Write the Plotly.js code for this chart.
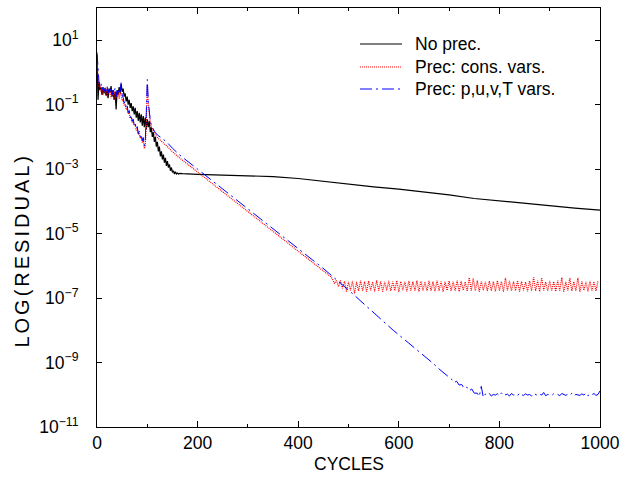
<!DOCTYPE html>
<html><head><meta charset="utf-8">
<script src="https://cdn.plot.ly/plotly-3.0.1.min.js"></script>
<style>html,body{margin:0;padding:0;background:#fff}</style></head>
<body>
<div id="chart" style="width:631px;height:478px"></div>
<script>
// ---- data: log10(residual) ----
const seriesNames = ["No prec.", "Prec: cons. vars.", "Prec: p,u,v,T vars."];
const seriesColors = ["#000000", "#ff0000", "#0000ff"];
const seriesDash = ["solid", "1px,1px", "12px,4px,2px,4px"];

// No preconditioning
const blackEarlyStart = 0, blackEarlyStep = 2; // cycles 0..164
const blackEarly = [0.55,-0.85,-0.30,-0.55,-0.45,-0.70,-0.50,-0.65,-0.48,-0.72,
 -0.55,-0.80,-0.50,-0.62,-0.42,-0.75,-0.55,-0.85,-0.60,-1.15,
 -0.55,-0.70,-0.45,-0.65,-0.35,-0.60,-0.50,-0.75,-0.65,-0.90,
 -0.75,-1.00,-0.85,-1.10,-0.95,-1.20,-1.05,-1.30,-1.10,-1.40,
 -1.20,-1.50,-1.25,-1.55,-1.30,-1.65,-1.35,-1.70,-1.40,-1.75,
 -1.45,-1.70,-1.50,-1.85,-1.70,-2.00,-1.85,-2.15,-2.00,-2.30,
 -2.15,-2.45,-2.30,-2.60,-2.45,-2.70,-2.55,-2.80,-2.65,-2.90,
 -2.75,-2.95,-2.85,-3.05,-2.95,-3.10,-3.05,-3.15,-3.08,-3.15,
 -3.12,-3.15,-3.13];
const blackLateCycles = [170,200,250,300,350,400,450,500,550,600,650,700,750,800,850,900,950,1000];
const blackLate = [-3.14,-3.16,-3.18,-3.20,-3.23,-3.29,-3.38,-3.48,-3.55,-3.62,-3.70,-3.80,-3.91,-3.99,-4.06,-4.14,-4.21,-4.27];

// Preconditioning, conservative variables
const redEarlyStart = 0, redEarlyStep = 2; // cycles 0..120
const redEarly = [0.30,-0.25,-0.45,-0.40,-0.60,-0.50,-0.70,-0.55,-0.62,-0.48,
 -0.75,-0.55,-0.68,-0.52,-0.80,-0.60,-0.72,-0.58,-0.85,-0.65,
 -0.75,-0.60,-0.82,-0.62,-0.70,-0.88,-0.85,-1.02,-0.98,-1.15,
 -1.12,-1.28,-1.25,-1.42,-1.38,-1.55,-1.50,-1.65,-1.62,-1.80,
 -1.75,-1.92,-1.88,-2.05,-2.00,-2.18,-2.12,-2.36,-2.28,-1.60,
 -0.40,-1.00,-1.40,-1.55,-1.68,-1.75,-1.82,-1.88,-1.93,-1.98,
 -2.02];
const redMidCycles = [130,140,150,165,200,250,300,350,400,450,464];
const redMid = [-2.15,-2.30,-2.46,-2.66,-3.09,-3.70,-4.32,-4.93,-5.55,-6.16,-6.33];
const redPlateauStart = 468, redPlateauStep = 4; // cycles 468..996
const redPlateau = [-6.40,-6.55,-6.45,-6.65,-6.45,-6.70,-6.48,-6.80,-6.50,-6.76,
 -6.47,-6.86,-6.50,-6.78,-6.46,-6.77,-6.49,-6.80,-6.47,-6.76,
 -6.50,-6.79,-6.45,-6.77,-6.48,-6.80,-6.50,-6.76,-6.47,-6.78,
 -6.49,-6.77,-6.46,-6.80,-6.48,-6.75,-6.50,-6.79,-6.47,-6.77,
 -6.49,-6.78,-6.46,-6.80,-6.48,-6.76,-6.50,-6.78,-6.47,-6.77,
 -6.49,-6.79,-6.46,-6.77,-6.48,-6.80,-6.50,-6.76,-6.47,-6.78,
 -6.49,-6.77,-6.46,-6.80,-6.48,-6.76,-6.50,-6.79,-6.36,-6.77,
 -6.38,-6.78,-6.46,-6.80,-6.48,-6.76,-6.50,-6.78,-6.47,-6.77,
 -6.49,-6.79,-6.46,-6.77,-6.48,-6.80,-6.37,-6.76,-6.47,-6.78,
 -6.49,-6.77,-6.46,-6.80,-6.48,-6.76,-6.50,-6.79,-6.47,-6.77,
 -6.36,-6.78,-6.46,-6.80,-6.37,-6.76,-6.50,-6.78,-6.47,-6.77,
 -6.49,-6.79,-6.46,-6.77,-6.36,-6.80,-6.50,-6.76,-6.38,-6.78,
 -6.49,-6.77,-6.37,-6.80,-6.48,-6.76,-6.50,-6.79,-6.47,-6.77,
 -6.49,-6.78,-6.47];

// Preconditioning, p,u,v,T variables
const blueEarlyStart = 0, blueEarlyStep = 2; // cycles 0..120
const blueEarly = [0.62,-0.10,-0.30,-0.45,-0.35,-0.55,-0.45,-0.60,-0.48,-0.58,
 -0.42,-0.65,-0.50,-0.60,-0.45,-0.70,-0.55,-0.62,-0.48,-0.75,
 -0.55,-0.65,-0.48,-0.60,-0.32,-0.70,-0.78,-0.95,-0.90,-1.10,
 -1.02,-1.25,-1.18,-1.40,-1.32,-1.52,-1.45,-1.65,-1.58,-1.75,
 -1.68,-1.90,-1.82,-2.00,-1.92,-2.12,-2.02,-2.28,-2.10,-1.25,
 -0.22,-0.90,-1.35,-1.50,-1.62,-1.70,-1.76,-1.82,-1.86,-1.90,
 -1.94];
const blueMidCycles = [130,140,150,165,200,250,300,350,400,449,500,550,589,620,640,660,670,680,690,700,705,710,715,720,725,730,735,740,745,750];
const blueMid = [-2.05,-2.18,-2.35,-2.57,-3.00,-3.62,-4.23,-4.85,-5.47,-6.07,-6.75,-7.45,-8.00,-8.40,-8.65,-8.92,-9.05,-9.20,-9.32,-9.45,-9.52,-9.62,-9.58,-9.70,-9.68,-9.80,-9.76,-9.88,-9.82,-9.95];
const bluePlateauStart = 756, bluePlateauStep = 4; // cycles 756..1000
const bluePlateau = [-9.95,-10.05,-9.74,-10.08,-9.98,-10.02,-9.96,-10.04,-9.99,-10.01,
 -9.97,-10.03,-9.94,-10.02,-10.00,-9.98,-10.04,-9.96,-10.01,-9.99,
 -10.03,-9.95,-10.00,-10.02,-9.97,-10.01,-9.99,-10.04,-9.96,-10.00,
 -10.02,-9.98,-10.01,-9.93,-10.03,-9.99,-10.00,-10.02,-9.97,-10.01,
 -9.99,-10.03,-9.96,-10.00,-10.02,-9.98,-10.01,-9.95,-10.03,-9.99,
 -10.00,-10.02,-9.97,-10.01,-9.94,-10.03,-9.98,-10.00,-9.96,-10.02,
 -9.99,-9.88];

const yTickExp = [1,-1,-3,-5,-7,-9,-11];
const xTicks = [0,200,400,600,800,1000];

// ---- build traces ----
function cyc(start, step, n){ const a=[]; for(let i=0;i<n;i++) a.push(start+i*step); return a; }
const toVal = a => a.map(v => Math.pow(10, v));

const blackX = cyc(blackEarlyStart, blackEarlyStep, blackEarly.length).concat(blackLateCycles);
const blackY = toVal(blackEarly.concat(blackLate));
const redX = cyc(redEarlyStart, redEarlyStep, redEarly.length).concat(redMidCycles, cyc(redPlateauStart, redPlateauStep, redPlateau.length));
const redY = toVal(redEarly.concat(redMid, redPlateau));
const blueX = cyc(blueEarlyStart, blueEarlyStep, blueEarly.length).concat(blueMidCycles, cyc(bluePlateauStart, bluePlateauStep, bluePlateau.length));
const blueY = toVal(blueEarly.concat(blueMid, bluePlateau));

const FONT = "Liberation Sans, Arial, Helvetica, sans-serif";
const FS = 17.5;

const traces = [
  {x: blackX, y: blackY, name: seriesNames[0], mode: "lines", showlegend: false, line: {color: seriesColors[0], width: 1.2}},
  {x: redX, y: redY, name: seriesNames[1], mode: "lines", showlegend: false, line: {color: seriesColors[1], width: 1.2, dash: seriesDash[1]}},
  {x: blueX, y: blueY, name: seriesNames[2], mode: "lines", showlegend: false, line: {color: seriesColors[2], width: 1, dash: seriesDash[2]}}
];

// legend key (drawn as lines + text in paper coordinates)
const legX0 = 0.5229, legX1 = 0.6064, legTextX = 0.6282;
const legRows = [0.9141, 0.8592, 0.8067];
const legendShapes = seriesNames.map((n, i) => ({
  type: "line", xref: "paper", yref: "paper", x0: legX0, x1: legX1, y0: legRows[i], y1: legRows[i],
  line: {color: seriesColors[i], width: i === 1 ? 1 : 1.2, dash: seriesDash[i]}
}));
const legendTexts = seriesNames.map((n, i) => ({
  text: n, xref: "paper", yref: "paper", x: legTextX, y: legRows[i], xanchor: "left", yanchor: "middle",
  showarrow: false, font: {family: FONT, size: FS, color: "#000"}
}));

const layout = {
  width: 631, height: 478,
  margin: {l: 97, r: 31, t: 8, b: 51, pad: 0},
  paper_bgcolor: "#ffffff", plot_bgcolor: "#ffffff",
  font: {family: FONT, size: FS, color: "#000000"},
  showlegend: false,
  xaxis: {
    range: [0, 1000], tickmode: "array", tickvals: xTicks, ticktext: xTicks.map(String),
    ticks: "inside", ticklen: 6, tickwidth: 1, tickcolor: "#000",
    minor: {dtick: 100, tick0: 0, ticks: "inside", ticklen: 3, tickcolor: "#000", showgrid: false},
    showline: true, linecolor: "#000", linewidth: 1, mirror: "ticks",
    showgrid: false, zeroline: false,
    tickfont: {family: FONT, size: FS, color: "#000"}
  },
  yaxis: {
    type: "log", range: [-11, 2], tickmode: "array",
    tickvals: yTickExp.map(e => Math.pow(10, e)),
    ticktext: yTickExp.map(e => "10<sup>" + (e < 0 ? "\u2212" + (-e) : e) + "</sup>"),
    ticks: "inside", ticklen: 5, tickwidth: 1, tickcolor: "#000",
    showline: true, linecolor: "#000", linewidth: 1, mirror: "ticks",
    showgrid: false, zeroline: false, ticklabelstandoff: 14,
    tickfont: {family: FONT, size: FS, color: "#000"}
  },
  shapes: legendShapes,
  annotations: [
    {text: "CYCLES", xref: "paper", yref: "paper", x: 0.5, y: -0.088, xanchor: "center", yanchor: "middle",
     showarrow: false, font: {family: FONT, size: FS, color: "#000"}},
    {text: "<span style=\"letter-spacing:3px\">LOG(RESIDUAL)</span>", xref: "paper", yref: "paper",
     x: -0.150, y: 0.4224, xanchor: "center", yanchor: "middle", textangle: -90,
     showarrow: false, font: {family: FONT, size: 20, color: "#000"}}
  ].concat(legendTexts)
};

Plotly.newPlot("chart", traces, layout, {staticPlot: true, displayModeBar: false});
</script>
</body></html>
